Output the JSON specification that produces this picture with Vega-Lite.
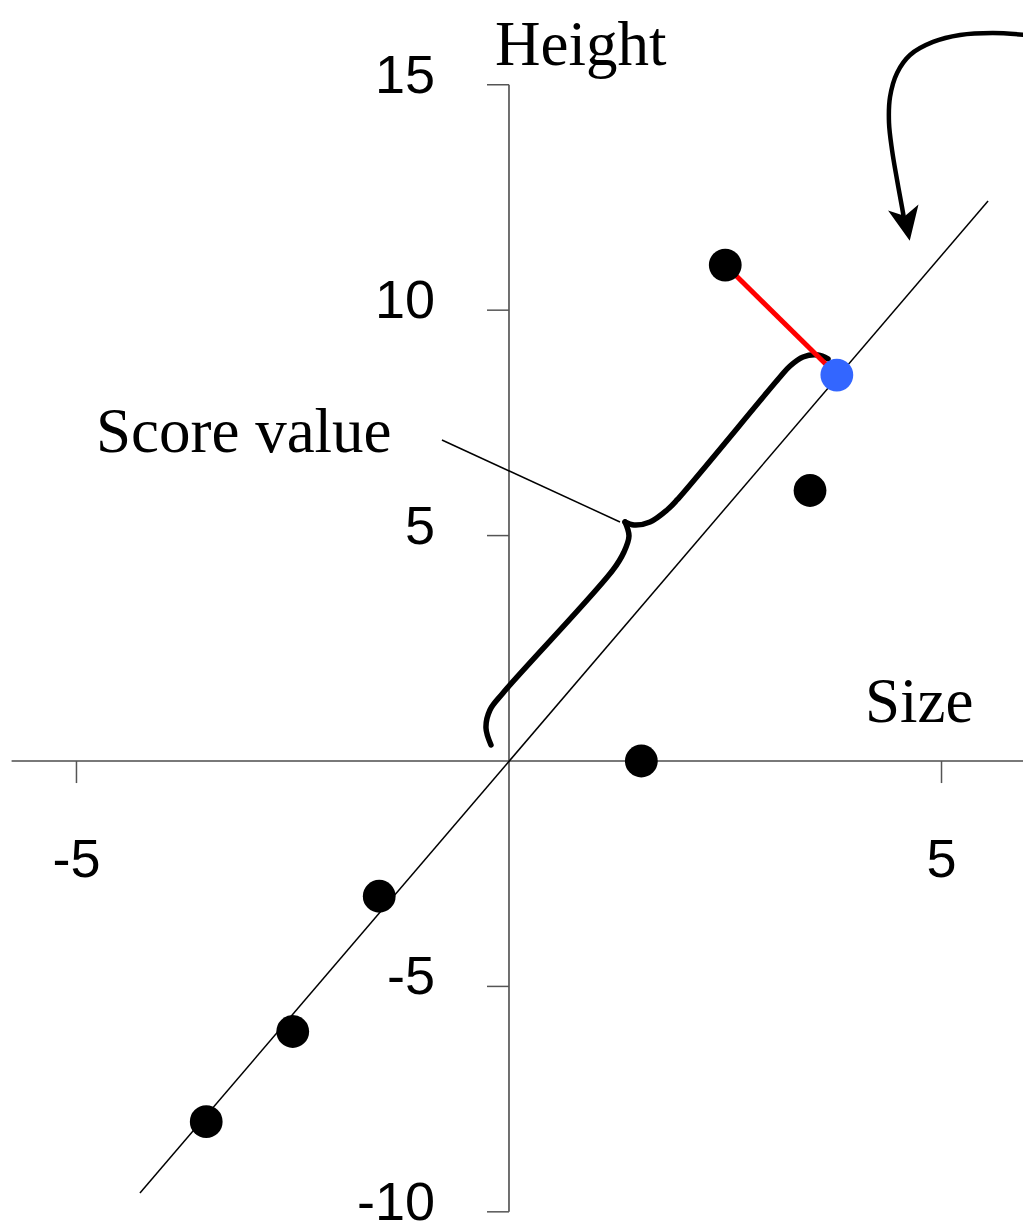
{
  "$schema": "https://vega.github.io/schema/vega-lite/v6.json",
  "width": 1023,
  "height": 1224,
  "padding": 0,
  "autosize": {"type": "none"},
  "background": "white",
  "config": {"view": {"stroke": null}},
  "datasets": {
    "axes": [
      {"x": -5.75, "y": 0, "x2": 5.95, "y2": 0},
      {"x": 0, "y": -10, "x2": 0, "y2": 15}
    ],
    "yticks": [
      {"x": -0.254, "x2": 0, "y": 15, "label": "15"},
      {"x": -0.254, "x2": 0, "y": 10, "label": "10"},
      {"x": -0.254, "x2": 0, "y": 5, "label": "5"},
      {"x": -0.254, "x2": 0, "y": -5, "label": "-5"},
      {"x": -0.254, "x2": 0, "y": -10, "label": "-10"}
    ],
    "xticks": [
      {"x": -5, "y": 0, "y2": -0.489, "label": "-5"},
      {"x": 5, "y": 0, "y2": -0.489, "label": "5"}
    ],
    "fit": [
      {"x": -4.266, "y": -9.583},
      {"x": 5.538, "y": 12.422}
    ],
    "brace": [
      {"part": "a", "i": 1, "x": -0.208, "y": 0.355},
      {"part": "a", "i": 2, "x": -0.266, "y": 0.732},
      {"part": "a", "i": 3, "x": -0.22, "y": 1.131},
      {"part": "a", "i": 4, "x": -0.069, "y": 1.508},
      {"part": "a", "i": 5, "x": 1.202, "y": 4.237},
      {"part": "a", "i": 6, "x": 1.329, "y": 4.636},
      {"part": "a", "i": 7, "x": 1.387, "y": 4.991},
      {"part": "a", "i": 8, "x": 1.341, "y": 5.302},
      {"part": "b", "i": 1, "x": 1.341, "y": 5.302},
      {"part": "b", "i": 2, "x": 1.445, "y": 5.235},
      {"part": "b", "i": 3, "x": 1.63, "y": 5.302},
      {"part": "b", "i": 4, "x": 1.827, "y": 5.568},
      {"part": "b", "i": 5, "x": 1.942, "y": 5.79},
      {"part": "b", "i": 6, "x": 3.133, "y": 8.518},
      {"part": "b", "i": 7, "x": 3.249, "y": 8.762},
      {"part": "b", "i": 8, "x": 3.399, "y": 8.962},
      {"part": "b", "i": 9, "x": 3.572, "y": 9.006},
      {"part": "b", "i": 10, "x": 3.688, "y": 8.918}
    ],
    "leader": [
      {"x": -0.775, "y": 7.121, "x2": 1.283, "y2": 5.302}
    ],
    "arrow": [
      {"i": 1, "x": 5.965, "y": 16.105},
      {"i": 2, "x": 5.595, "y": 16.149},
      {"i": 3, "x": 5.214, "y": 16.105},
      {"i": 4, "x": 4.902, "y": 15.95},
      {"i": 5, "x": 4.636, "y": 15.661},
      {"i": 6, "x": 4.486, "y": 15.262},
      {"i": 7, "x": 4.405, "y": 14.73},
      {"i": 8, "x": 4.393, "y": 14.153},
      {"i": 9, "x": 4.428, "y": 13.554},
      {"i": 10, "x": 4.486, "y": 12.888},
      {"i": 11, "x": 4.543, "y": 12.289},
      {"i": 12, "x": 4.573, "y": 11.957}
    ],
    "arrowhead": [
      {"x": 4.59, "y": 11.96}
    ],
    "residual": [
      {"x": 2.5, "y": 11, "x2": 3.79, "y2": 8.56}
    ],
    "points": [
      {"x": -3.5, "y": -8, "kind": "observed"},
      {"x": -2.5, "y": -6, "kind": "observed"},
      {"x": -1.5, "y": -3, "kind": "observed"},
      {"x": 1.53, "y": 0, "kind": "observed"},
      {"x": 2.5, "y": 11, "kind": "observed"},
      {"x": 3.48, "y": 6, "kind": "observed"},
      {"x": 3.79, "y": 8.56, "kind": "projected"}
    ],
    "titles": [
      {"x": -0.162, "y": 15.44, "label": "Height", "size": "m"},
      {"x": 4.116, "y": 0.865, "label": "Size", "size": "m"},
      {"x": -4.775, "y": 6.855, "label": "Score value", "size": "m"}
    ]
  },
  "encoding": {
    "x": {"field": "x", "type": "quantitative", "axis": null, "scale": {"domain": [-5.884, 5.942], "nice": false, "zero": false}},
    "y": {"field": "y", "type": "quantitative", "axis": null, "scale": {"domain": [-10.27, 16.88], "nice": false, "zero": false}}
  },
  "layer": [
    {
      "data": {"name": "axes"},
      "mark": {"type": "rule", "color": "#4d4d4d", "strokeWidth": 1.6},
      "encoding": {"x2": {"field": "x2"}, "y2": {"field": "y2"}}
    },
    {
      "data": {"name": "yticks"},
      "mark": {"type": "rule", "color": "#555555", "strokeWidth": 1.5},
      "encoding": {"x2": {"field": "x2"}}
    },
    {
      "data": {"name": "xticks"},
      "mark": {"type": "rule", "color": "#555555", "strokeWidth": 1.5},
      "encoding": {"y2": {"field": "y2"}}
    },
    {
      "data": {"name": "yticks"},
      "mark": {"type": "text", "align": "right", "baseline": "alphabetic", "dy": 8, "fontSize": 54, "font": "Liberation Sans", "color": "black"},
      "encoding": {"x": {"field": "x2", "type": "quantitative"}, "text": {"field": "label"}, "xOffset": {"value": -74}}
    },
    {
      "data": {"name": "xticks"},
      "mark": {"type": "text", "align": "center", "baseline": "alphabetic", "dy": 116, "fontSize": 54, "font": "Liberation Sans", "color": "black"},
      "encoding": {"text": {"field": "label"}}
    },
    {
      "data": {"name": "fit"},
      "mark": {"type": "line", "color": "black", "strokeWidth": 1.5},
      "encoding": {}
    },
    {
      "data": {"name": "brace"},
      "mark": {"type": "line", "color": "black", "strokeWidth": 5.5, "strokeCap": "round", "interpolate": "catmull-rom"},
      "encoding": {"detail": {"field": "part"}, "order": {"field": "i", "type": "quantitative"}}
    },
    {
      "data": {"name": "leader"},
      "mark": {"type": "rule", "color": "black", "strokeWidth": 1.5},
      "encoding": {"x2": {"field": "x2"}, "y2": {"field": "y2"}}
    },
    {
      "data": {"name": "arrow"},
      "mark": {"type": "line", "color": "black", "strokeWidth": 4.5, "interpolate": "catmull-rom"},
      "encoding": {"order": {"field": "i", "type": "quantitative"}}
    },
    {
      "data": {"name": "arrowhead"},
      "mark": {"type": "point", "shape": "M0,1L-0.8,-0.75L0,-0.3L0.8,-0.75Z", "size": 1500, "filled": true, "color": "black", "opacity": 1, "angle": 349},
      "encoding": {}
    },
    {
      "data": {"name": "residual"},
      "mark": {"type": "rule", "color": "#ff0000", "strokeWidth": 5},
      "encoding": {"x2": {"field": "x2"}, "y2": {"field": "y2"}}
    },
    {
      "data": {"name": "points"},
      "mark": {"type": "circle", "size": 1075, "opacity": 1},
      "encoding": {
        "color": {"field": "kind", "type": "nominal", "legend": null, "scale": {"domain": ["observed", "projected"], "range": ["#000000", "#3366ff"]}}
      }
    },
    {
      "data": {"name": "titles"},
      "mark": {"type": "text", "align": "left", "baseline": "alphabetic", "fontSize": 63, "font": "Liberation Serif", "color": "black"},
      "encoding": {"text": {"field": "label"}}
    }
  ]
}
